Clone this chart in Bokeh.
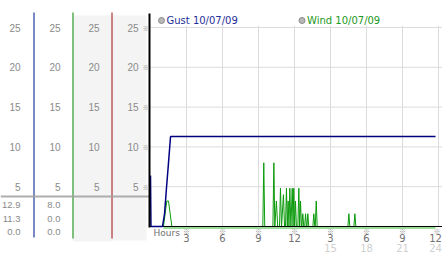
from bokeh.plotting import figure
from bokeh.models import Range1d
from bokeh.core.properties import value
from bokeh.embed import file_html
from bokeh.resources import INLINE

# ---------------- data ----------------
gust_hours = [0.0, 0.04, 1.0, 1.17, 1.33, 1.5, 1.67, 23.75]
gust_vals = [6.4, 0.0, 0.0, 1.6, 4.8, 8.0, 11.3, 11.3]

wind_hours = [0.0, 1.08, 1.22, 1.36, 1.5, 1.64, 1.78,
              9.36, 9.44, 9.52,
              10.2, 10.28, 10.36, 10.49, 10.6,
              10.75, 10.83, 10.92, 11.08, 11.17, 11.25, 11.33, 11.4, 11.47, 11.54,
              11.61, 11.7, 11.81, 11.88, 11.94, 12.01, 12.08, 12.16, 12.28, 12.36,
              12.43, 12.5, 12.58, 12.62, 12.69, 12.77, 12.85, 12.92, 13.0, 13.04,
              13.11, 13.19, 13.53, 13.61, 13.69, 13.73, 13.81, 13.89,
              16.45, 16.53, 16.61, 16.95, 17.03, 17.11, 23.75]
wind_vals = [0.0, 0.0, 1.6, 3.2, 3.2, 1.6, 0.0,
             0.0, 8.0, 0.0,
             0.0, 8.0, 0.0, 3.2, 0.0,
             0.0, 4.8, 0.0, 4.0, 0.0, 0.0, 4.8, 0.0, 3.2, 0.0,
             4.8, 0.0, 4.8, 0.0, 4.8, 0.0, 3.2, 0.0, 0.0, 4.8,
             0.0, 3.2, 0.0, 0.0, 1.6, 0.0, 0.0, 1.6, 0.0, 0.0,
             1.6, 0.0, 0.0, 1.6, 0.0, 0.0, 3.2, 0.0,
             0.0, 1.6, 0.0, 0.0, 1.6, 0.0, 0.0]

y_ticks = [5, 10, 15, 20, 25]
y_labels = ["5", "10", "15", "20", "25"]
x_ticks = [3, 6, 9, 12, 15, 18, 21, 24]
x_labels = ["3", "6", "9", "12", "3", "6", "9", "12"]
x_labels_24 = ["", "", "", "", "15", "18", "21", "24"]
gust_stats = ["12.9", "11.3", "0.0"]
wind_stats = ["8.0", "0.0", "0.0"]
legend_labels = ["Gust 10/07/09", "Wind 10/07/09"]

# ---------------- layout helpers (pixel -> data) ----------------
X0, PXH, Y0, PXU = 150.0, 12.0, 226.0, 7.96
def hx(px):
    return (px - X0) / PXH
def vy(py):
    return (Y0 - py) / PXU

FONT = value("DejaVu Sans")
LFONT = value("Liberation Sans")
MARKFONT = value("Noto Sans CJK JP")
p = figure(width=442, height=253, x_range=Range1d(hx(0), hx(442)),
           y_range=Range1d(vy(253), vy(0)), output_backend="svg",
           toolbar_location=None, min_border=0,
           x_axis_location=None, y_axis_location=None)
p.grid.visible = False
p.outline_line_color = None
p.background_fill_color = "white"
p.border_fill_color = "white"

# left panel gray columns
p.quad(left=[hx(72.5), hx(111.5)], right=[hx(111), hx(146)],
       top=[vy(15), vy(15)], bottom=[vy(241), vy(240)],
       fill_color="#f4f4f4", line_color=None)

# colored column dividers
p.segment(x0=[hx(33.5)], y0=[vy(12)], x1=[hx(33.5)], y1=[vy(237)], line_color="#1f3a9a", line_width=1.2)
p.segment(x0=[hx(72.5)], y0=[vy(12)], x1=[hx(72.5)], y1=[vy(238)], line_color="#2a9a2a", line_width=1.2)
p.segment(x0=[hx(111.5)], y0=[vy(12)], x1=[hx(111.5)], y1=[vy(238)], line_color="#aa3333", line_width=1.2)

# separator line in left panel
p.segment(x0=[hx(0)], y0=[vy(196)], x1=[hx(150)], y1=[vy(196)], line_color="#a0a0a0", line_width=2, line_alpha=0.85)

# main grid
p.segment(x0=[hx(150)] * len(y_ticks), y0=y_ticks, x1=[hx(442)] * len(y_ticks), y1=y_ticks,
          line_color="#dcdcdc", line_width=1)
p.segment(x0=x_ticks, y0=[vy(25)] * len(x_ticks), x1=x_ticks, y1=[0] * len(x_ticks),
          line_color="#dcdcdc", line_width=1)

# series
p.segment(x0=[wind_hours[1]], y0=[vy(227.5)], x1=[wind_hours[-1]], y1=[vy(227.5)],
          line_color="#33bb33", line_width=1)
p.line(wind_hours, wind_vals, line_color="#0a9a0a", line_width=1)
p.segment(x0=[0], y0=[0], x1=[hx(442)], y1=[0], line_color="black", line_width=1.2)
p.line(gust_hours, gust_vals, line_color="#000080", line_width=1.5)

# y axis line
p.segment(x0=[hx(149)], y0=[vy(13)], x1=[hx(149)], y1=[vy(227)], line_color="black", line_width=2)

# left labels
for rx in [20, 60, 99, 138]:
    p.text(x=[hx(rx)] * len(y_ticks), y=y_ticks, text=y_labels, text_font=LFONT,
           text_font_size="10px", text_color="#8a8a8a", text_align="right", text_baseline="middle")
stat_y = [vy(204), vy(218), vy(231.5)]
p.text(x=[hx(20)] * 3, y=stat_y, text=gust_stats, text_font=LFONT, text_font_size="9.5px",
       text_color="#8a8a8a", text_align="right", text_baseline="middle")
p.text(x=[hx(60)] * 3, y=stat_y, text=wind_stats, text_font=LFONT, text_font_size="9.5px",
       text_color="#8a8a8a", text_align="right", text_baseline="middle")

# reference marks
p.text(x=[hx(145.5)] * len(y_ticks), y=y_ticks, text=["※"] * len(y_ticks), text_font=MARKFONT,
       text_font_size="7px", text_color="#999999", text_align="center", text_baseline="middle")
x_mark = x_ticks[:-1] + [hx(436.5)]
p.text(x=x_mark, y=[vy(230)] * len(x_ticks), text=["※"] * len(x_ticks), text_font=MARKFONT,
       text_font_size="7px", text_color="#999999", text_align="center", text_baseline="middle")

# x labels
x_pos = x_ticks[:-1] + [hx(435)]
p.text(x=x_pos, y=[vy(237.5)] * len(x_ticks), text=x_labels, text_font=FONT, text_font_size="10px",
       text_color="#707070", text_align="center", text_baseline="middle")
p.text(x=x_pos, y=[vy(247)] * len(x_ticks), text=x_labels_24, text_font=FONT, text_font_size="10px",
       text_color="#d0d0d0", text_align="center", text_baseline="middle")
p.text(x=[hx(153)], y=[vy(232)], text=["Hours"], text_font=FONT, text_font_size="9px",
       text_color="#707070", text_align="left", text_baseline="middle")

# legend
p.scatter(x=[hx(161), hx(301.5)], y=[vy(20), vy(20)], size=6, marker="circle",
          fill_color="#b8b8b8", line_color="#8a8a8a", line_width=1)
p.text(x=[hx(166)], y=[vy(20)], text=[legend_labels[0]], text_font=FONT, text_font_size="10px",
       text_color="#1f2f99", text_align="left", text_baseline="middle")
p.text(x=[hx(306.5)], y=[vy(20)], text=[legend_labels[1]], text_font=FONT, text_font_size="10px",
       text_color="#229922", text_align="left", text_baseline="middle")

open("out.html", "w").write(file_html(p, INLINE))
